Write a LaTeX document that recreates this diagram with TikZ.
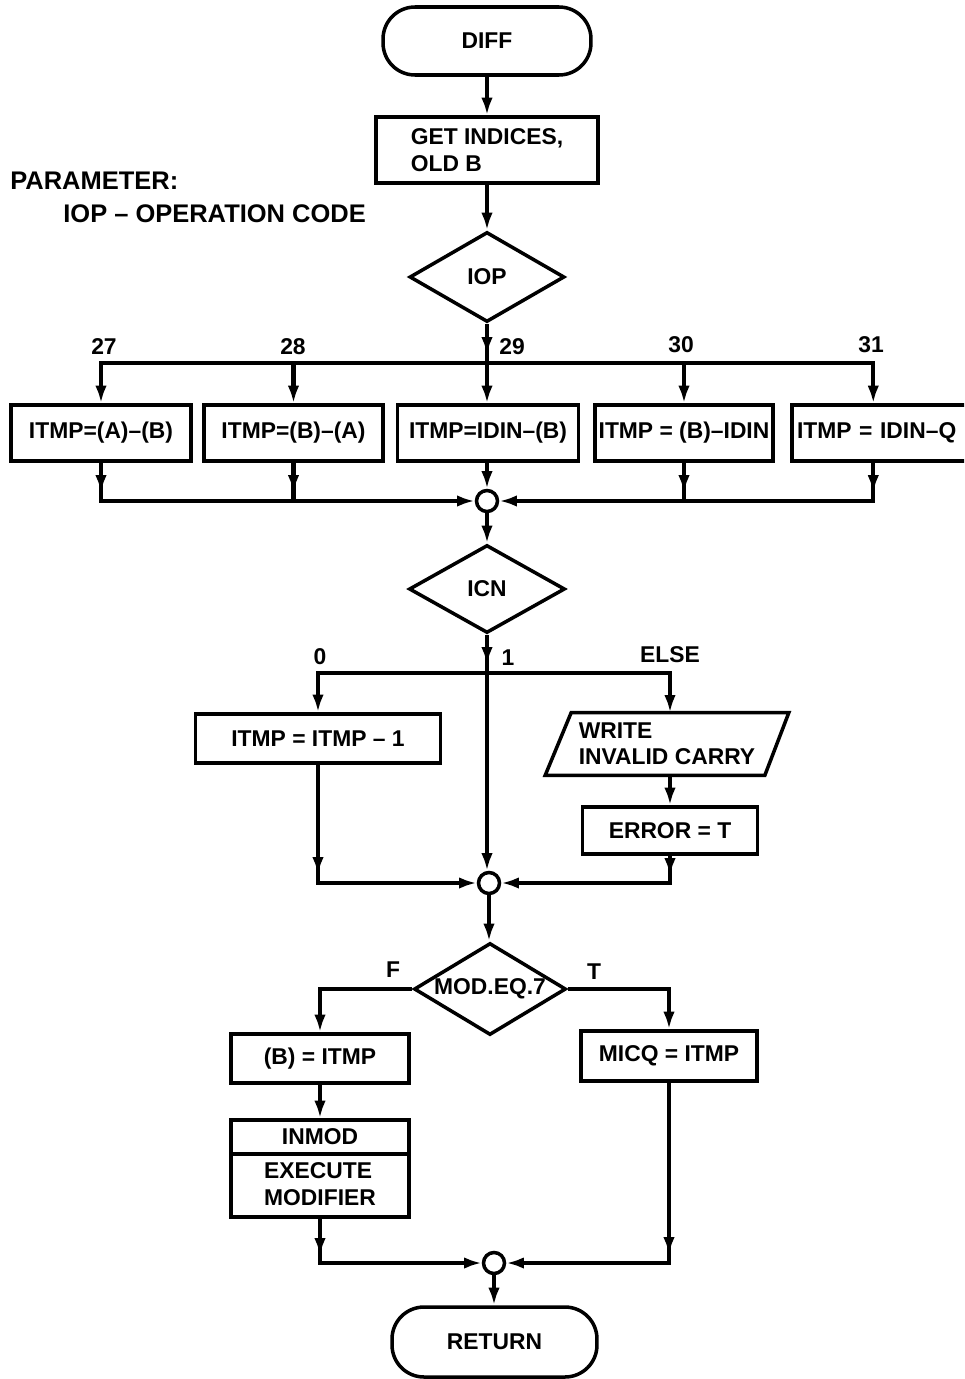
\documentclass[tikz,border=0pt]{standalone}
\usepackage{fontspec}
\setmainfont{Liberation Sans}
\usetikzlibrary{arrows.meta,shapes.geometric,calc,decorations.markings}
\begin{document}
\begin{tikzpicture}[x=0.02cm,y=-0.02cm,
  txt/.style={font=\fontsize{13}{15}\selectfont\bfseries},
  proc/.style={draw, line width=2pt, rectangle, inner sep=2pt, txt},
  term/.style={draw, line width=2pt, rectangle, rounded corners=0.64cm, txt},
  dec/.style={draw, line width=2pt, diamond, aspect=1.7, inner sep=0pt, txt},
  junc/.style={draw, line width=2pt, circle, inner sep=0pt, minimum size=0.42cm},
  lbl/.style={txt, inner sep=0pt},
  flow/.style={line width=2.3pt},
  tipend/.style={-{Latex[length=10pt,width=6.5pt]}},
  tipat/.style={postaction={decorate}, decoration={markings,
      mark=at position #1 with {\arrow{Latex[length=10pt,width=6.5pt]}}}},
]
\useasboundingbox (0,0) rectangle (964,1379);
\clip (0,0) rectangle (964,1379);

% ---- start and preparation
\node[term, minimum width=4.16cm, minimum height=1.36cm] (diff) at (487,41) {DIFF};
\node[proc, minimum width=4.44cm, minimum height=1.32cm, align=left] (get) at (487,150) {GET INDICES,\\OLD B};
\node[lbl, font=\fontsize{14.5}{17}\selectfont\bfseries, anchor=west] (par) at (10,181) {PARAMETER:};
\node[lbl, font=\fontsize{14.5}{17}\selectfont\bfseries, anchor=west] (parop) at (63,214) {IOP – OPERATION CODE};
\node[dec, minimum width=3.1cm, minimum height=1.8cm] (iop) at (487,277) {IOP};
\draw[flow, tipend] (diff) -- (get);
\draw[flow, tipend] (get) -- (iop);

% ---- operation code branches
\coordinate (sp1) at (487,363);
\node[proc, minimum width=3.6cm, minimum height=1.12cm] (b1) at (101,433) {ITMP=(A)–(B)};
\node[proc, minimum width=3.58cm, minimum height=1.12cm] (b2) at (293.5,433) {ITMP=(B)–(A)};
\node[proc, minimum width=3.62cm, minimum height=1.12cm] (b3) at (488,433) {ITMP=IDIN–(B)};
\node[proc, minimum width=3.56cm, minimum height=1.12cm] (b4) at (684,433) {ITMP = (B)–IDIN};
\node[proc, minimum width=3.9cm, minimum height=1.12cm, text width=3.7cm, align=left, inner xsep=0.1cm] (b5) at (889.5,433) {ITMP = IDIN–Q};
\coordinate (b5n) at ($(b5.north west)+(83,0)$);
\coordinate (b5s) at ($(b5.south west)+(83,0)$);

\node[lbl] (n27) at (104,347) {27};
\node[lbl] (n28) at (293,347) {28};
\node[lbl] (n29) at (512,347) {29};
\node[lbl] (n30) at (681,345) {30};
\node[lbl] (n31) at (871,345) {31};

\draw[flow, tipat=0.62cm] (iop.south) -- (iop.south |- sp1);
\draw[flow, tipend] (sp1) -| (b1.north);
\draw[flow, tipend] (sp1) -| (b5n);
\draw[flow, tipend] (b2.north |- sp1) -- (b2.north);
\draw[flow, tipend] (b4.north |- sp1) -- (b4.north);
\draw[flow, tipend] (sp1) -- (sp1 |- b3.north);

\node[junc] (c1) at (487,501) {};
\draw[flow, tipend, tipat=0.6cm] (b1.south) |- (c1.west);
\draw[flow, tipat=0.6cm] (b2.south) -- (b2.south |- c1);
\draw[flow, tipend] (c1 |- b3.south) -- (c1.north);
\draw[flow, tipat=0.6cm] (b4.south) -- (b4.south |- c1);
\draw[flow, tipend, tipat=0.6cm] (b5s) |- (c1.east);

% ---- carry test
\node[dec, minimum width=3.12cm, minimum height=1.76cm] (icn) at (487,589) {ICN};
\draw[flow, tipend] (c1.south) -- (icn.north);
\coordinate (sp2) at (487,673);
\node[lbl] (n0) at (320,657) {0};
\node[lbl] (n1) at (508,658) {1};
\node[lbl] (nelse) at (670,655) {ELSE};

\node[proc, minimum width=4.9cm, minimum height=0.98cm] (dcr) at (318,738.5) {ITMP = ITMP – 1};
\node[txt, inner sep=0pt, minimum width=4.86cm, minimum height=1.24cm, align=left] (wr) at (667,744) {WRITE\\INVALID CARRY};
\draw[line width=2pt] ($(wr.north west)+(26,0)$) -- (wr.north east) -- ($(wr.south east)+(-24,0)$) -- (wr.south west) -- cycle;
\node[proc, minimum width=3.5cm, minimum height=0.94cm] (err) at (670,830.5) {ERROR = T};
\node[junc] (c2) at (489,883) {};

\draw[flow, tipend, tipat=0.6cm] (icn.south) -- (icn.south |- c2.north);
\draw[flow, tipend] (sp2) -| (dcr.north);
\draw[flow, tipend] (sp2) -| (err.north |- wr.north);
\draw[flow, tipend] (err.north |- wr.south) -- (err.north);
\draw[flow, tipend, tipat=2.2cm] (dcr.south) |- (c2.west);
\draw[flow, tipend, tipat=0.4cm] (err.south) |- (c2.east);

% ---- modifier test
\node[dec, minimum width=3.04cm, minimum height=1.84cm] (mod) at (490,989) {MOD.EQ.7};
\draw[flow, tipend] (c2.south) -- (c2.south |- mod.north);
\node[lbl] (nf) at (393,970) {F};
\node[lbl] (nt) at (594,972) {T};

\node[proc, minimum width=3.56cm, minimum height=0.98cm] (bset) at (320,1058.5) {(B) = ITMP};
\node[proc, minimum width=3.52cm, minimum height=1cm] (micq) at (669,1056) {MICQ = ITMP};
\draw[flow, tipend] (mod.west) -| (bset.north);
\draw[flow, tipend] (mod.east) -| (micq.north);

\node[proc, minimum width=3.56cm, minimum height=1.94cm] (inm) at (320,1168.5) {};
\coordinate (dv) at (320,1154);
\draw[line width=2pt] (inm.west |- dv) -- (inm.east |- dv);
\node[lbl] (inmt) at (320,1137) {INMOD};
\node[lbl, align=left] (inmx) at (320,1184) {EXECUTE\\MODIFIER};
\draw[flow, tipend] (bset.south) -- (inm.north);

% ---- exit
\node[junc] (c3) at (494,1263) {};
\node[term, minimum width=4.1cm, minimum height=1.4cm] (ret) at (494.5,1342) {RETURN};
\draw[flow, tipend, tipat=0.74cm] (inm.south) |- (c3.west);
\draw[flow, tipend, tipat=3.44cm] (micq.south) |- (c3.east);
\draw[flow, tipend] (c3.south) -- (c3.south |- ret.north);
\end{tikzpicture}
\end{document}
